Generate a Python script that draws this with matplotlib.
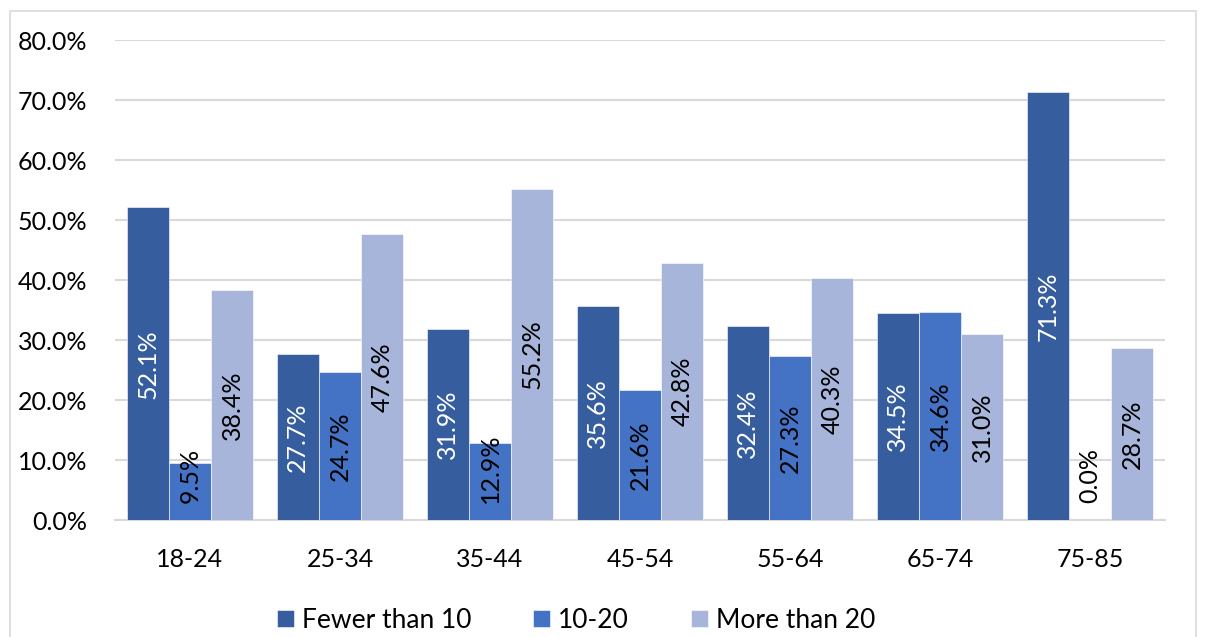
# grouped bar chart: share of respondents by age group
import numpy as np
import matplotlib.pyplot as plt
from matplotlib.patches import Rectangle
from matplotlib.ticker import PercentFormatter

plt.rcParams['font.family'] = ['Lato', 'DejaVu Sans']

ages = ['18-24', '25-34', '35-44', '45-54', '55-64', '65-74', '75-85']
series = ['Fewer than 10', '10-20', 'More than 20']
fewer_10 = [52.1, 27.7, 31.9, 35.6, 32.4, 34.5, 71.3]
from_10_to_20 = [9.5, 24.7, 12.9, 21.6, 27.3, 34.6, 0.0]
more_20 = [38.4, 47.6, 55.2, 42.8, 40.3, 31.0, 28.7]

colors = ['#365D9E', '#4472C4', '#A7B5DA']
label_colors = ['white', 'black', 'black']

fig = plt.figure(figsize=(12.06, 6.37), dpi=100)
ax = fig.add_axes([115 / 1206, 1 - 520 / 637, 1050 / 1206, 480 / 637])

# thin outer frame round the chart
fig.patches.append(Rectangle((10 / 1206, -0.05), 1186 / 1206, 1.05 - 11 / 637,
                             transform=fig.transFigure, fill=False,
                             edgecolor='#D9D9D9', linewidth=1.2))

x = np.arange(len(ages))
w = 0.282
for i, (vals, c, lc) in enumerate(zip([fewer_10, from_10_to_20, more_20], colors, label_colors)):
    pos = x + (i - 1) * w
    ax.bar(pos, vals, width=w, color=c, label=series[i], zorder=3,
           edgecolor='white', linewidth=0.4)
    for px, v in zip(pos, vals):
        # short bars: keep the label just above the axis
        if v < 15:
            ax.text(px, 2.8, f'{v:.1f}%', rotation=90, ha='center', va='bottom',
                    color='black', fontsize=18, zorder=4)
        else:
            ax.text(px, v / 2, f'{v:.1f}%', rotation=90, ha='center', va='center',
                    color=lc, fontsize=18, zorder=4)

ax.set_xlim(-0.5, len(ages) - 0.5)
ax.set_ylim(0, 80)
ax.set_yticks(np.arange(0, 81, 10))
ax.yaxis.set_major_formatter(PercentFormatter(decimals=1))
ax.set_xticks(x)
ax.set_xticklabels(ages)
ax.tick_params(axis='both', length=0, labelsize=18, colors='black')
ax.tick_params(axis='x', pad=20)
ax.tick_params(axis='y', pad=20)

ax.grid(axis='y', color='#D9D9D9', linewidth=1.5, zorder=0)
for s in ['top', 'right', 'left']:
    ax.spines[s].set_visible(False)
ax.spines['bottom'].set_color('#D9D9D9')
ax.spines['bottom'].set_linewidth(1.5)

fig.legend(loc='center', bbox_to_anchor=(576 / 1206, 1 - 620 / 637), ncol=3,
           frameon=False, fontsize=19, handlelength=0.64, handleheight=0.64,
           columnspacing=2.35, handletextpad=0.3, borderaxespad=0)

fig.savefig('out.png', dpi=100)
